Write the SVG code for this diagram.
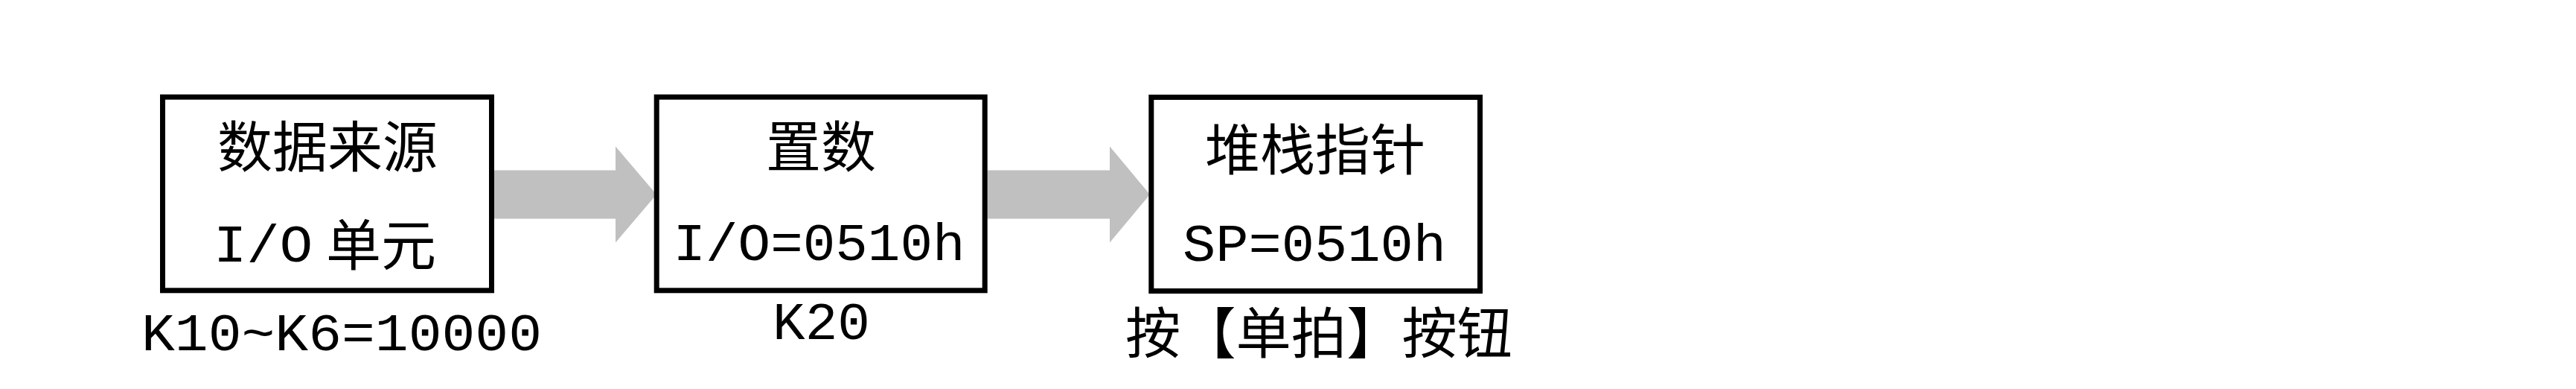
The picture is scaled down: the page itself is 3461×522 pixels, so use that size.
<svg xmlns="http://www.w3.org/2000/svg" width="3461" height="522" viewBox="0 0 3461 522">
<style>
.box{fill:#fff;stroke:#000;stroke-width:7}
.arr{fill:#c0c0c0;stroke:none}
.cjk{font-family:"Noto Sans CJK SC",sans-serif;font-size:74px;fill:#000}
.lat{font-family:"Liberation Mono",monospace;font-size:70px;fill:#000}
.mid{text-anchor:middle}
</style>
<rect width="3461" height="522" fill="#fff"/>
<g id="connectors">
<polygon class="arr" points="664,228.5 827,228.5 827,196.5 882,261 827,325.5 827,293.5 664,293.5"/>
<polygon class="arr" points="1326.5,228.5 1491,228.5 1491,196.5 1545,261 1491,325.5 1491,293.5 1326.5,293.5"/>
</g>
<g id="node1">
<rect class="box" x="218.5" y="130.2" width="442" height="259.6"/>
<text class="cjk mid" x="440" y="224">数据来源</text>
<text class="lat" x="287" y="351" textLength="133" lengthAdjust="spacingAndGlyphs">I/O</text>
<text class="cjk" x="438" y="356">单元</text>
</g>
<g id="node2">
<rect class="box" x="882.2" y="130.2" width="441" height="259.6"/>
<text class="cjk mid" x="1103" y="224">置数</text>
<text class="lat" x="904.5" y="349" textLength="392" lengthAdjust="spacingAndGlyphs">I/O=0510h</text>
</g>
<g id="node3">
<rect class="box" x="1546.8" y="130.5" width="441.7" height="260"/>
<text class="cjk mid" x="1767" y="228">堆栈指针</text>
<text class="lat" x="1589" y="350" textLength="354" lengthAdjust="spacingAndGlyphs">SP=0510h</text>
</g>
<g id="labels">
<text class="lat" x="190" y="470" textLength="538" lengthAdjust="spacingAndGlyphs">K10~K6=10000</text>
<text class="lat" x="1038" y="455" textLength="131" lengthAdjust="spacingAndGlyphs">K20</text>
<text class="cjk" x="1512" y="474" textLength="520" lengthAdjust="spacingAndGlyphs">按【单拍】按钮</text>
</g>
</svg>
